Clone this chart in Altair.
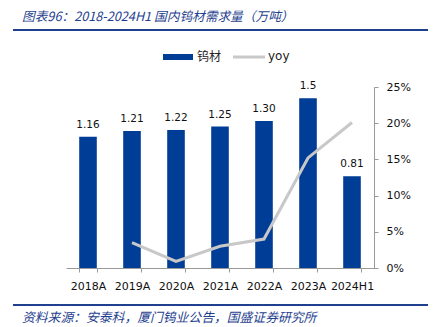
import altair as alt
import pandas as pd

years = ["2018A", "2019A", "2020A", "2021A", "2022A", "2023A", "2024H1"]
demand = [1.16, 1.21, 1.22, 1.25, 1.30, 1.5, 0.81]
demand_labels = ["1.16", "1.21", "1.22", "1.25", "1.30", "1.5", "0.81"]
yoy = [None, 0.035, 0.009, 0.030, 0.040, 0.152, 0.201]

title_text = ["图表96：2018-2024H1 国内钨材需求量（万吨）"]
source_text = ["资料来源：安泰科，厦门钨业公告，国盛证券研究所"]
legend_names = ["钨材", "yoy"]

BLUE = "#003D96"
GRAY = "#C8C8C8"
HEAD = "#1F3F8F"
FONT = "DejaVu Sans"
CJK = "Noto Sans CJK SC"

df = pd.DataFrame({"year": years, "demand": demand, "label": demand_labels})
dy = pd.DataFrame({"year": years[1:], "yoy": yoy[1:]})

W, H = 308, 181

xscale = alt.Scale(paddingInner=0.6, paddingOuter=0.3)
xenc = alt.X("year:N", sort=years, title=None, scale=xscale,
             axis=alt.Axis(labelAngle=0, labelFont=FONT, labelFontSize=11, labelColor="#111",
                           domainColor="#999", tickColor="#999", tickBand="extent",
                           tickSize=4, labelPadding=8))

yleft = alt.Y("demand:Q", title=None,
              scale=alt.Scale(domain=[0, 1.6], nice=False),
              axis=alt.Axis(values=[0, 0.2, 0.4, 0.6, 0.8, 1.0, 1.2, 1.4, 1.6], format=".1f",
                            grid=False, labelFont=FONT, labelFontSize=11, labelColor="#111",
                            domainColor="#999", tickColor="#999", tickSize=4, labelPadding=10))

bars = alt.Chart(df).mark_bar(color=BLUE).encode(x=xenc, y=yleft)
texts = alt.Chart(df).mark_text(dy=-12, font=FONT, fontSize=10.5, color="#111").encode(
    x=alt.X("year:N", sort=years, scale=xscale), y=alt.Y("demand:Q", axis=None), text="label:N")
left = alt.layer(bars, texts)

line = alt.Chart(dy).mark_line(color=GRAY, strokeWidth=3).encode(
    x=alt.X("year:N", sort=years, scale=xscale),
    y=alt.Y("yoy:Q", title=None, scale=alt.Scale(domain=[0, 0.25], nice=False),
            axis=alt.Axis(orient="right", values=[0, 0.05, 0.10, 0.15, 0.20, 0.25], format=".0%",
                          grid=False, labelFont=FONT, labelFontSize=11, labelColor="#111",
                          domainColor="#999", tickColor="#999", tickSize=4, labelPadding=8)))

# header / footer / legend decorations
tdf = pd.DataFrame({"t": title_text})
title = alt.Chart(tdf).mark_text(align="left", baseline="middle", font=CJK, fontSize=12.7,
                                 fontStyle="italic", color=HEAD).encode(
    x=alt.value(-44), y=alt.value(-70), text="t:N")
hline = alt.Chart(tdf).mark_rule(color=HEAD, strokeWidth=2).encode(
    x=alt.value(-53), x2=alt.value(362), y=alt.value(-57))
sdf = pd.DataFrame({"t": source_text})
source = alt.Chart(sdf).mark_text(align="left", baseline="middle", font=CJK, fontSize=12.8,
                                  fontStyle="italic", color=HEAD).encode(
    x=alt.value(-44), y=alt.value(231), text="t:N")
fline = alt.Chart(sdf).mark_rule(color=HEAD, strokeWidth=2).encode(
    x=alt.value(-53), x2=alt.value(362), y=alt.value(218))

ldf = pd.DataFrame({"t": legend_names[:1]})
leg_rect = alt.Chart(ldf).mark_rect(color=BLUE).encode(
    x=alt.value(97), x2=alt.value(127), y=alt.value(-33), y2=alt.value(-27))
leg_t1 = alt.Chart(ldf).mark_text(align="left", baseline="middle", font=CJK, fontSize=12,
                                  color="#222").encode(x=alt.value(131), y=alt.value(-30), text="t:N")
ldf2 = pd.DataFrame({"t": legend_names[1:]})
leg_line = alt.Chart(ldf2).mark_rule(color=GRAY, strokeWidth=3).encode(
    x=alt.value(167), x2=alt.value(199), y=alt.value(-30))
leg_t2 = alt.Chart(ldf2).mark_text(align="left", baseline="middle", font=FONT, fontSize=12,
                                   color="#222").encode(x=alt.value(202), y=alt.value(-31), text="t:N")

chart = alt.layer(left, line, title, hline, source, fline, leg_rect, leg_t1, leg_line, leg_t2).resolve_scale(
    y="independent"
).properties(
    width=W, height=H,
    autosize=alt.AutoSizeParams(type="none"),
    padding={"left": 66, "top": 87, "right": 63, "bottom": 59},
    background="white",
).configure_view(stroke=None)

chart.save("out.html", embed_options={"renderer": "svg", "actions": False})
